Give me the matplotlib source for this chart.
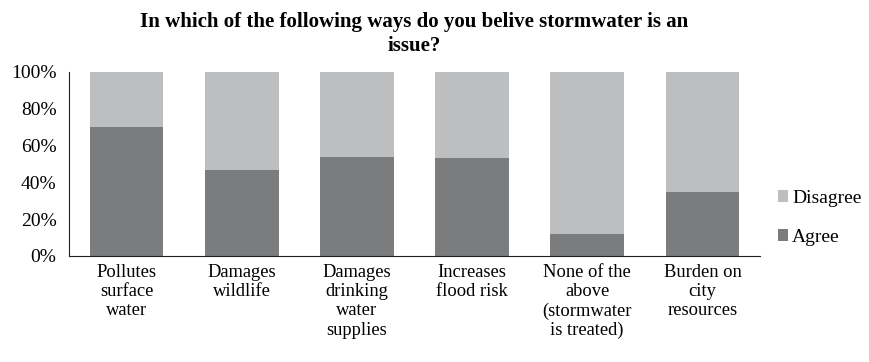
import numpy as np
import matplotlib
matplotlib.use("Agg")
from matplotlib import pyplot as plt

categories = ["Pollutes\nsurface\nwater", "Damages\nwildlife", "Damages\ndrinking\nwater\nsupplies",
              "Increases\nflood risk", "None of the\nabove\n(stormwater\nis treated)", "Burden on\ncity\nresources"]
agree = [70, 47, 54, 53, 12, 35]
disagree = [30, 53, 46, 47, 88, 65]
yticks = [0, 20, 40, 60, 80, 100]

plt.rcParams["font.family"] = ["Liberation Serif", "DejaVu Serif"]

fig = plt.figure(figsize=(8.7, 3.62), dpi=100)
ax = fig.add_axes([69 / 870, 1 - 256 / 362, 691 / 870, 184 / 362])

x = np.arange(len(categories))
c_agree = "#7b7c7e"
c_dis = "#bdbec0"
ax.bar(x, agree, width=0.64, color=c_agree, label="Agree")
ax.bar(x, disagree, width=0.64, bottom=agree, color=c_dis, label="Disagree")

ax.set_xlim(-0.5, len(categories) - 0.5)
ax.set_ylim(0, 100)
ax.set_yticks(yticks)
ax.set_yticklabels([f"{v}%" for v in yticks], fontsize=14)
ax.set_xticks(x)
ax.set_xticklabels(categories, fontsize=13.3, linespacing=1.16, va="top")
ax.tick_params(length=0, pad=6)
ax.tick_params(axis="y", pad=9)
ax.spines["top"].set_visible(False)
ax.spines["right"].set_visible(False)
ax.spines["left"].set_color("#222222")
ax.spines["bottom"].set_color("#222222")

fig.suptitle("In which of the following ways do you belive stormwater is an\nissue?",
             x=414 / 870, y=0.968, fontsize=15, fontweight="bold", linespacing=1.3)

handles, labels = ax.get_legend_handles_labels()
fig.legend(handles[::-1], labels[::-1], loc="center left", bbox_to_anchor=(764 / 870, 1 - 218 / 362),
           frameon=False, fontsize=14, handlelength=0.55, handleheight=0.55, handletextpad=0.2,
           labelspacing=1.15, borderpad=0.2)

fig.savefig("out.png", dpi=100)
